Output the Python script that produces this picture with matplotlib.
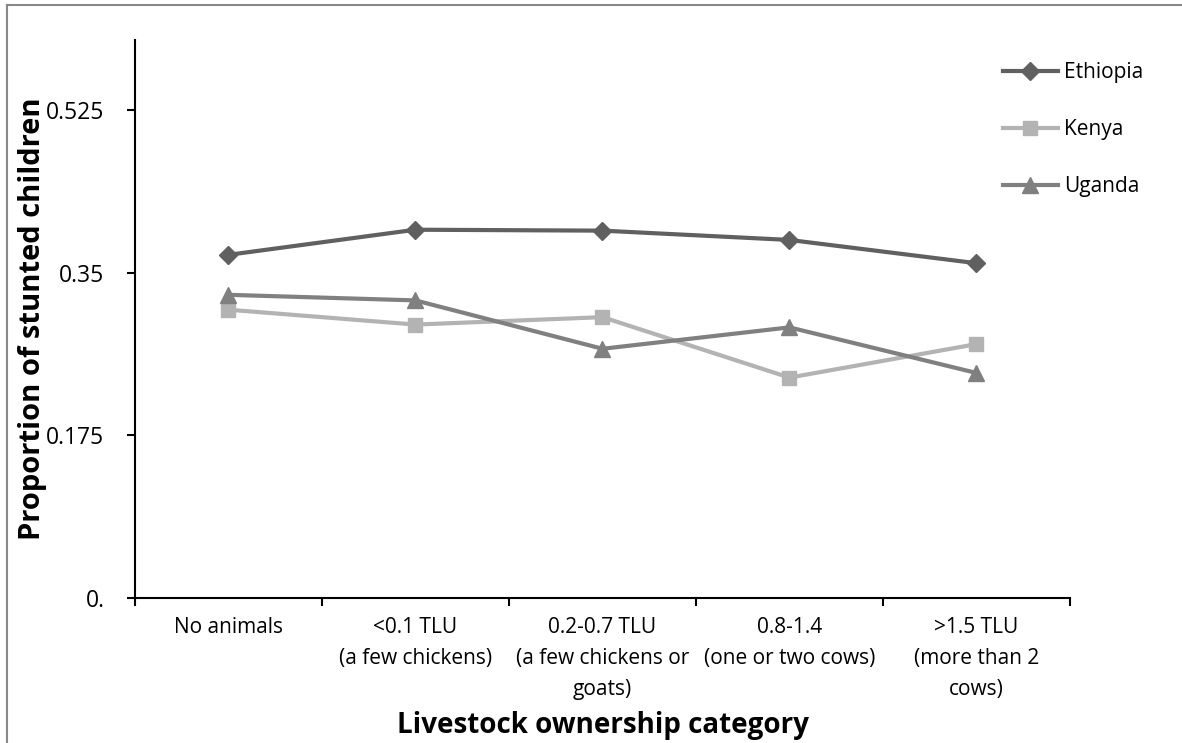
import matplotlib.pyplot as plt
from matplotlib.lines import Line2D

categories = ["No animals", "<0.1 TLU\n(a few chickens)", "0.2-0.7 TLU\n(a few chickens or\ngoats)",
              "0.8-1.4\n(one or two cows)", ">1.5 TLU\n(more than 2\ncows)"]
ethiopia = [0.369, 0.396, 0.395, 0.385, 0.360]
kenya = [0.310, 0.294, 0.302, 0.237, 0.273]
uganda = [0.326, 0.320, 0.268, 0.291, 0.242]
yticks = [0, 0.175, 0.35, 0.525]
ytick_labels = ["0.", "0.175", "0.35", "0.525"]

plt.rcParams['font.family'] = ['Open Sans', 'DejaVu Sans']

fig = plt.figure(figsize=(11.82, 7.43), dpi=100)
ax = fig.add_axes([0.1142, 0.1951, 0.791, 0.7511])

x = list(range(len(categories)))
ax.plot(x, ethiopia, color="#606060", lw=3, marker="D", ms=9, label="Ethiopia")
ax.plot(x, kenya, color="#b3b3b3", lw=3, marker="s", ms=10, label="Kenya")
ax.plot(x, uganda, color="#808080", lw=3, marker="^", ms=11, label="Uganda")

ax.set_xlim(-0.5, 4.5)
ax.set_ylim(0, 0.6)
ax.set_yticks(yticks)
ax.set_yticklabels(ytick_labels, fontsize=16.5)
ax.set_xticks(x)
ax.set_xticklabels(categories, fontsize=15, linespacing=1.6, va="top")
ax.set_xticks([i - 0.5 for i in range(len(categories) + 1)], minor=True)
ax.tick_params(axis="x", which="major", length=0, pad=14)
ax.tick_params(axis="x", which="minor", length=6, width=1.5, direction="out")
ax.tick_params(axis="y", length=6, width=1.5, pad=16)

for side in ["top", "right"]:
    ax.spines[side].set_visible(False)
for side in ["left", "bottom"]:
    ax.spines[side].set_linewidth(1.5)

ax.set_ylabel("Proportion of stunted children", fontsize=21, fontweight="bold", labelpad=-1)
ax.set_xlabel("Livestock ownership category", fontsize=20, fontweight="bold", labelpad=8)

ax.legend(loc="upper left", bbox_to_anchor=(0.833, 0.9414), bbox_transform=fig.transFigure,
          frameon=False, fontsize=15, labelspacing=1.73, handlelength=2.6, handletextpad=0.3)

# outer chart border (left and top only visible)
fig.add_artist(Line2D([0.006, 0.006], [0, 0.993], transform=fig.transFigure, color="#888888", lw=1.5))
fig.add_artist(Line2D([0.006, 1.0], [0.993, 0.993], transform=fig.transFigure, color="#888888", lw=1.5))

fig.savefig("out.png", dpi=100)
